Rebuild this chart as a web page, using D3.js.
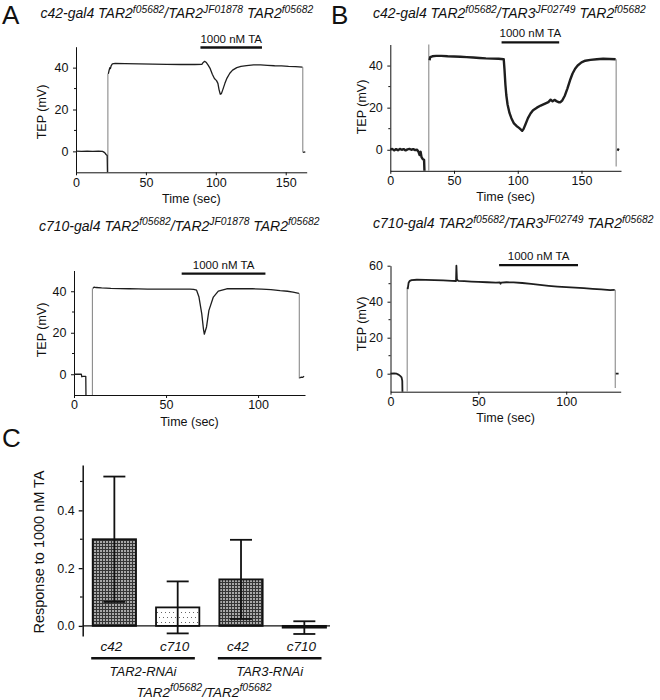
<!DOCTYPE html>
<html><head><meta charset="utf-8">
<script src="https://cdn.jsdelivr.net/npm/d3@7"></script>
<style>
body{margin:0;background:#fff;}
svg{display:block;font-family:"Liberation Sans",Arial,sans-serif;}
</style></head><body>
<svg id="fig" width="660" height="700"></svg>
<script>
// ---------------- DATA ----------------
// Traces: [time (s), TEP (mV)]; null value breaks the line
const traceA1 = [[0,0.1],[4,0],[8,0.1],[12,0],[16,0.1],[19,0],[20.5,-0.6],[21.5,-1.5],[22.3,-2],[22.5,-10],[22.5,null],
  [23.1,37],[23.6,38.5],[24.2,40],[24.6,39.5],[25.2,41],[26,41.8],[28,42],[35,41.9],[45,41.8],[55,41.7],[65,41.6],[75,41.5],[85,41.5],
  [90,41.6],[91,42.5],[92,43],[93,42.6],[94.5,41.2],[96,39.5],[97.5,36.8],[99,34.8],[100.5,33.8],[101.5,32.5],[102.3,29.5],[103.2,27.3],
  [104,27.6],[105,29.5],[106.5,32.5],[108,35],[110,37.3],[112,38.8],[115,40],[118,40.6],[122,41],[127,41.3],[132,41.3],[137,41.1],
  [142,40.9],[147,40.8],[152,40.6],[157,40.5],[162,40.2],[162,null],[162.4,-0.5],[164,-0.2]];
const jumpsA1 = [[22.8,-10,37],[162.2,40.2,-0.5]];

const traceB1 = [[0,0],[1.5,0.4],[3,-0.3],[4.5,0.3],[6,-0.2],[7.5,0.4],[9,0],[10.5,0.3],[12,-0.3],[13.5,0.2],[15,0.4],[16.5,0],[18,0.3],
  [19.5,-0.2],[21,0],[22,-0.8],[23,-2.5],[23.8,-1],[24.5,-3.5],[25.5,-4.5],[26.5,-4.8],[26.8,-10],[26.8,null],
  [30.8,42.5],[31.3,44],[33,44.4],[36,44.6],[40,44.6],[45,44.4],[50,44.3],[55,44.2],[60,44],[65,43.8],[70,43.6],[75,43.4],[80,43.3],
  [85,43.2],[89,43],[89.6,38],[90.3,31],[91,26],[92,21.5],[93.5,17.5],[95,15],[97,12.5],[99,11.3],[101,10.4],[102.5,9.6],[103.5,9],
  [104.5,9.8],[106,12],[108,15],[110,17.2],[112,18.8],[115,20],[118,21],[121,21.8],[124,22.6],[125.8,23.8],[127.3,23],[128.8,23.7],
  [130.3,23.1],[132,22.6],[133.5,22.6],[135,23.5],[137,25.8],[139,29.2],[141,33],[143,36.2],[145,38.5],[147,40],[150,41.5],[153,42.3],
  [157,42.7],[162,43],[167,43.2],[172,43.1],[176.8,43],[176.8,null],[178,0.3],[179.5,-0.2]];
const jumpsB1 = [[30.2,-10,50],[177.2,43,-8]];

const traceA2 = [[0,0],[2,0.1],[4,0],[4.2,-1.2],[5,-1],[6.4,-1],[6.5,-10],[6.5,null],
  [10.3,41.5],[11,42],[12,41.8],[15,41.6],[20,41.4],[25,41.3],[30,41.2],[35,41.1],[40,41],[50,41],[60,41],[63,41],[65,40.9],[66.6,40.5],
  [67.9,37.2],[69.4,29.2],[70.3,22],[70.8,19.3],[72,22.8],[73.3,30.8],[75.7,37.2],[78.4,40.1],[83,41.2],[90,41.3],[97,41.2],[102,41],
  [107,40.8],[112,40.3],[116,40],[119,39.6],[122.2,39],[122.2,null],[122.5,-1.8],[123.5,-1.4],[124.3,-1.5],[125,-1]];
const jumpsA2 = [[10,-10,41.5],[122.4,39,-2]];

const traceB2 = [[0,0],[2,0.1],[3.5,0],[4.5,-0.5],[5.5,-1.2],[6.3,-2],[6.7,-4],[6.8,-10],[6.8,null],
  [9.8,47],[10.3,50.5],[11,51.6],[12,52],[15,52.2],[20,52.1],[25,52],[30,51.8],[35,51.6],[37.3,51.5],[37.5,60],[37.8,52.5],[38.5,51.6],
  [42,51.4],[46,51.2],[50,51],[55,50.8],[60,50.6],[62.3,50.7],[62.6,50],[63,50.6],[66,50.8],[70,50.7],[75,50.4],[80,49.9],[85,49.3],
  [90,48.8],[95,48.4],[100,48.1],[105,47.8],[110,47.5],[115,47.1],[120,46.8],[125,46.4],[127.6,46.6],[127.6,null],[128.2,0],[129.8,0]];
const jumpsB2 = [[9.5,-10,48],[127.9,46.6,-8]];

// TA application bars: [start s, end s, level mV]
const taA1 = [89, 133, 49.6];
const taB1 = [87.3, 132.5, 51];
const taA2 = [58.5, 104, 48.5];
const taB2 = [61.8, 106.7, 60.3];
const taLabel = "1000 nM TA";

// Axis ticks
const timeTicksA1 = [0, 50, 100, 150];
const timeTicksB1 = [0, 50, 100, 150];
const timeTicksA2 = [0, 50, 100];
const timeTicksB2 = [0, 50, 100];
const tepTicks = [0, 20, 40];
const tepTicksB2 = [0, 20, 40, 60];
const tepMinor = [10, 30];
const tepMinorB2 = [10, 30, 50];

// Panel C
const barDrivers = ["c42", "c710", "c42", "c710"];
const barValues = [0.30, 0.064, 0.161, -0.006];
const barErrors = [0.217, 0.090, 0.137, 0.022];
const barFills = ["hatch", "dots", "hatch", "hatch"];
const groupLabels = ["TAR2-RNAi", "TAR3-RNAi"];
const respTicks = [0.0, 0.2, 0.4];
const respMinor = [0.1, 0.3, 0.5];

// ---------------- DRAW ----------------
const svg = d3.select("#fig");
const defs = svg.append("defs");
const ph = defs.append("pattern").attr("id","hatch").attr("patternUnits","userSpaceOnUse").attr("width",3).attr("height",3);
ph.append("rect").attr("width",3).attr("height",3).attr("fill","#353535");
ph.append("rect").attr("x",1).attr("y",1).attr("width",2).attr("height",2).attr("fill","#a8a8a8");
const pd = defs.append("pattern").attr("id","dots").attr("patternUnits","userSpaceOnUse").attr("width",8).attr("height",10);
pd.append("rect").attr("width",8).attr("height",10).attr("fill","#fff");
[[1,2],[5,2],[3,7],[7,7]].forEach(p=>pd.append("rect").attr("x",p[0]).attr("y",p[1]).attr("width",1).attr("height",1).attr("fill","#666"));

function richText(parent, x, y, parts, size, supSize, anchor) {
  const t = parent.append("text").attr("x",x).attr("y",y).attr("font-size",size)
    .attr("font-style","italic").attr("text-anchor",anchor||"start").attr("fill","#111");
  let up = false;
  parts.forEach(p => {
    const s = t.append("tspan").text(p[0]);
    if (p[1] && !up) { s.attr("dy",-5.5).attr("font-size",supSize); up = true; }
    else if (p[1]) { s.attr("font-size",supSize); }
    else if (up) { s.attr("dy",5.5); up = false; }
  });
  return t;
}

function styleAxis(g) {
  g.selectAll("path,line").attr("stroke","#111").attr("stroke-width",1);
  g.selectAll("text").attr("font-size",12.5).attr("fill","#111").attr("font-family",'"Liberation Sans",Arial,sans-serif');
}

function tracePanel(c) {
  const x = d3.scaleLinear().domain(c.xDomain).range([c.left, c.right]);
  const y = d3.scaleLinear().domain(c.yDomain).range([c.bottom, c.top]);
  const g = svg.append("g");
  const xa = g.append("g").attr("transform",`translate(0,${c.bottom})`)
    .call(d3.axisBottom(x).tickValues(c.xTicks).tickSize(3).tickPadding(2.5).tickSizeOuter(0));
  styleAxis(xa);
  const ya = g.append("g").attr("transform",`translate(${c.left},0)`)
    .call(d3.axisLeft(y).tickValues(c.yTicks).tickSize(3).tickPadding(4.5).tickSizeOuter(0));
  styleAxis(ya);
  g.selectAll(".minor").data(c.yMinor).join("line")
    .attr("x1",c.left-2).attr("x2",c.left).attr("y1",d=>y(d)).attr("y2",d=>y(d)).attr("stroke","#111");
  // jumps (grey vertical transients)
  g.selectAll(".jump").data(c.jumps).join("line")
    .attr("x1",d=>x(d[0])).attr("x2",d=>x(d[0])).attr("y1",d=>y(d[1])).attr("y2",d=>y(d[2]))
    .attr("stroke","#8a8a8a").attr("stroke-width",1.1);
  const line = d3.line().defined(d=>d[1]!==null).x(d=>x(d[0])).y(d=>y(d[1]));
  g.append("path").datum(c.trace).attr("d",line).attr("fill","none")
    .attr("stroke","#1e1e1e").attr("stroke-width",c.lw).attr("stroke-linejoin","round");
  // TA bar
  g.append("line").attr("x1",x(c.ta[0])).attr("x2",x(c.ta[1])).attr("y1",y(c.ta[2])).attr("y2",y(c.ta[2]))
    .attr("stroke","#111").attr("stroke-width",2.4);
  g.append("text").attr("x",(x(c.ta[0])+x(c.ta[1]))/2).attr("y",y(c.ta[2])-5).attr("text-anchor","middle")
    .attr("font-size",11.5).attr("fill","#111").text(taLabel);
  // axis titles
  g.append("text").attr("x",(c.left+c.right)/2).attr("y",c.bottom+30.5).attr("text-anchor","middle")
    .attr("font-size",12.5).attr("fill","#111").text("Time (sec)");
  g.append("text").attr("transform",`translate(${c.ylx},${c.yly}) rotate(-90)`).attr("text-anchor","middle")
    .attr("font-size",12.5).attr("fill","#111").text("TEP (mV)");
  richText(svg, c.titleX, c.titleY, c.title, 14, 10.3);
}

tracePanel({xDomain:[0,165], yDomain:[-10,50], left:76, right:306.7, top:46.7, bottom:172.3,
  xTicks:timeTicksA1, yTicks:tepTicks, yMinor:tepMinor, trace:traceA1, jumps:jumpsA1, ta:taA1, lw:1.3,
  ylx:45.5, yly:112, titleX:40.5, titleY:18,
  title:[["c42-gal4 TAR2"],["f05682",1],["/TAR2"],["JF01878",1],[" TAR2"],["f05682",1]]});
tracePanel({xDomain:[0,181], yDomain:[-10,50], left:390.3, right:621, top:44.5, bottom:170.8,
  xTicks:timeTicksB1, yTicks:tepTicks, yMinor:tepMinor, trace:traceB1, jumps:jumpsB1, ta:taB1, lw:2.4,
  ylx:365.5, yly:107, titleX:373, titleY:18,
  title:[["c42-gal4 TAR2"],["f05682",1],["/TAR3"],["JF02749",1],[" TAR2"],["f05682",1]]});
tracePanel({xDomain:[0,125.5], yDomain:[-10,50], left:74, right:305, top:270.5, bottom:395,
  xTicks:timeTicksA2, yTicks:tepTicks, yMinor:tepMinor, trace:traceA2, jumps:jumpsA2, ta:taA2, lw:1.3,
  ylx:45.5, yly:330, titleX:39, titleY:230.5,
  title:[["c710-gal4 TAR2"],["f05682",1],["/TAR2"],["JF01878",1],[" TAR2"],["f05682",1]]});
tracePanel({xDomain:[0,131], yDomain:[-10,60], left:390.5, right:620.7, top:265.7, bottom:391.7,
  xTicks:timeTicksB2, yTicks:tepTicksB2, yMinor:tepMinorB2, trace:traceB2, jumps:jumpsB2, ta:taB2, lw:1.8,
  ylx:365.5, yly:324, titleX:373, titleY:228,
  title:[["c710-gal4 TAR2"],["f05682",1],["/TAR3"],["JF02749",1],[" TAR2"],["f05682",1]]});

// Panel letters
[["A",2,23.5],["B",331,23.5],["C",2,447]].forEach(l=>svg.append("text").attr("x",l[1]).attr("y",l[2])
  .attr("font-size",26).attr("fill","#111").text(l[0]));

// ---------------- Panel C ----------------
(function(){
  const x = d3.scaleBand().domain(d3.range(barValues.length)).range([82.7, 336]).paddingInner(0.316).paddingOuter(0.158);
  const y = d3.scaleLinear().domain([-0.035, 0.557]).range([636, 465]);
  const g = svg.append("g");
  const ya = g.append("g").attr("transform","translate(82.7,0)")
    .call(d3.axisLeft(y).tickValues(respTicks).tickFormat(d3.format(".1f")).tickSize(4).tickPadding(4).tickSizeOuter(0));
  styleAxis(ya);
  ya.select(".domain").attr("stroke-width",1.5);
  ya.selectAll(".tick line").attr("stroke-width",1.3);
  g.selectAll(".minorC").data(respMinor).join("line")
    .attr("x1",80).attr("x2",82.7).attr("y1",d=>y(d)).attr("y2",d=>y(d)).attr("stroke","#111").attr("stroke-width",1.2);
  // bars
  g.selectAll(".bar").data(barValues).join("rect")
    .attr("x",(d,i)=>x(i)).attr("width",x.bandwidth())
    .attr("y",d=>y(Math.max(0,d))).attr("height",d=>Math.max(1,Math.abs(y(d)-y(0))))
    .attr("fill",(d,i)=>`url(#${barFills[i]})`).attr("stroke","#111").attr("stroke-width",1.8);
  // zero line (x axis)
  g.append("line").attr("x1",82.7).attr("x2",330).attr("y1",y(0)).attr("y2",y(0)).attr("stroke","#111").attr("stroke-width",1.4);
  // error bars
  barValues.forEach((v,i)=>{
    const cx = x(i)+x.bandwidth()/2, e = barErrors[i];
    g.append("line").attr("x1",cx).attr("x2",cx).attr("y1",y(v-e)).attr("y2",y(v+e)).attr("stroke","#111").attr("stroke-width",1.8);
    [v-e, v+e].forEach(yy=>g.append("line").attr("x1",cx-11).attr("x2",cx+11).attr("y1",y(yy)).attr("y2",y(yy))
      .attr("stroke","#111").attr("stroke-width",1.8));
  });
  // category labels
  barDrivers.forEach((d,i)=>g.append("text").attr("x",x(i)+x.bandwidth()/2-3).attr("y",651).attr("text-anchor","middle")
    .attr("font-size",13.5).attr("font-style","italic").attr("fill","#111").text(d));
  groupLabels.forEach((gl,k)=>{
    const x1 = x(2*k)-1.5, x2 = x(2*k+1)+x.bandwidth()-4.5;
    g.append("line").attr("x1",x1).attr("x2",x2).attr("y1",658.3).attr("y2",658.3).attr("stroke","#111").attr("stroke-width",2.6);
    g.append("text").attr("x",(x1+x2)/2).attr("y",676).attr("text-anchor","middle").attr("font-size",13)
      .attr("font-style","italic").attr("fill","#111").text(gl);
  });
  richText(svg, 204, 696.5, [["TAR2"],["f05682",1],["/TAR2"],["f05682",1]], 13.5, 10.5, "middle");
  g.append("text").attr("transform","translate(43.5,552) rotate(-90)").attr("text-anchor","middle")
    .attr("font-size",14.5).attr("fill","#111").text("Response to 1000 nM TA");
})();
</script>
</body></html>
